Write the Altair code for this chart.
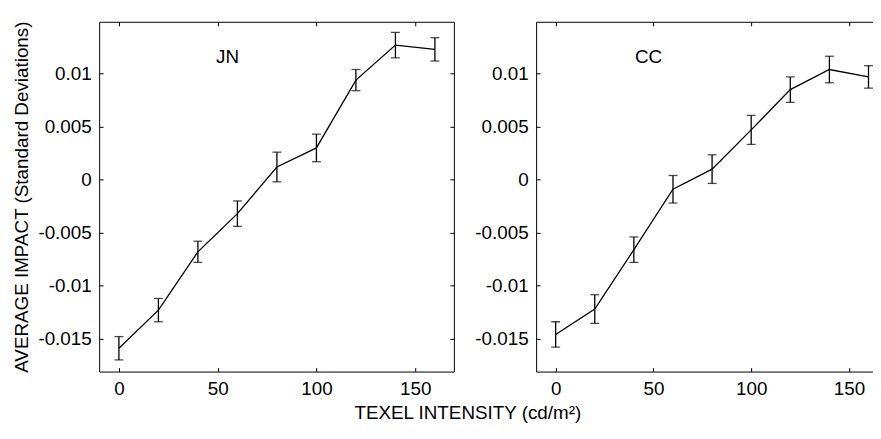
import altair as alt
import pandas as pd

# ---- data ----
intensity = [0, 20, 40, 60, 80, 100, 120, 140, 160]
jn_mean = [-0.0159, -0.0123, -0.0068, -0.0032, 0.0012, 0.0030, 0.0094, 0.0127, 0.0123]
jn_err = [0.0011, 0.0011, 0.0010, 0.0012, 0.0014, 0.0013, 0.0010, 0.0012, 0.0011]
cc_mean = [-0.0146, -0.0122, -0.0066, -0.0009, 0.0010, 0.0047, 0.0085, 0.0104, 0.0097]
cc_err = [0.0012, 0.00135, 0.0012, 0.0013, 0.00135, 0.00137, 0.0012, 0.00125, 0.00106]

panel_names = ["JN", "CC"]
label_pos_x = [55, 47.5]
label_pos_y = [0.0116, 0.0116]

x_ticks = [0, 50, 100, 150]
y_ticks = [-0.015, -0.01, -0.005, 0, 0.005, 0.01]
y_title = "AVERAGE IMPACT (Standard Deviations)"
x_title = "TEXEL INTENSITY (cd/m\u00b2)"

FONT = "Liberation Sans"
INWARD = {"expr": "-4"}


def panel(means, errs, name, lx, ly, xmax, width, show_right, show_ytitle):
    df = pd.DataFrame({
        "x": intensity,
        "y": means,
        "lo": [m - e for m, e in zip(means, errs)],
        "hi": [m + e for m, e in zip(means, errs)],
    })
    lab = pd.DataFrame({"x": [lx], "y": [ly], "t": [name]})
    xs = alt.Scale(domain=[-10, xmax], nice=False, zero=False)
    ys = alt.Scale(domain=[-0.0181, 0.0149], nice=False, zero=False)

    bottom_axis = alt.Axis(orient="bottom", values=x_ticks, tickSize=INWARD,
                           labelPadding=12, title=None)
    left_axis = alt.Axis(orient="left", values=y_ticks, tickSize=INWARD,
                         labelPadding=12, labelExpr="'' + datum.value",
                         title=y_title if show_ytitle else None,
                         titlePadding=6)
    top_axis = alt.Axis(orient="top", values=x_ticks, tickSize=INWARD,
                        labels=False, title=None)
    right_axis = alt.Axis(orient="right", values=y_ticks, tickSize=INWARD,
                          labels=False, title=None)

    base = alt.Chart(df)
    line = base.mark_line(color="black", strokeWidth=1.3).encode(
        x=alt.X("x:Q", scale=xs, axis=bottom_axis),
        y=alt.Y("y:Q", scale=ys, axis=left_axis),
    )
    mirror = base.mark_line(opacity=0).encode(
        x=alt.X("x:Q", scale=xs, axis=top_axis),
        y=alt.Y("y:Q", scale=ys, axis=right_axis if show_right else None),
    )
    rule = base.mark_rule(color="black", strokeWidth=1.3).encode(
        x=alt.X("x:Q", scale=xs, axis=None),
        y=alt.Y("lo:Q", scale=ys, axis=None),
        y2="hi:Q",
    )
    cap_lo = base.mark_tick(color="black", orient="horizontal", size=9, thickness=1.3).encode(
        x=alt.X("x:Q", scale=xs, axis=None),
        y=alt.Y("lo:Q", scale=ys, axis=None),
    )
    cap_hi = base.mark_tick(color="black", orient="horizontal", size=9, thickness=1.3).encode(
        x=alt.X("x:Q", scale=xs, axis=None),
        y=alt.Y("hi:Q", scale=ys, axis=None),
    )
    text = alt.Chart(lab).mark_text(font=FONT, fontSize=19, color="black",
                                    align="center", baseline="middle").encode(
        x=alt.X("x:Q", scale=xs, axis=None),
        y=alt.Y("y:Q", scale=ys, axis=None),
        text="t:N",
    )
    return alt.layer(line, mirror, rule, cap_lo, cap_hi, text).resolve_axis(
        x="independent", y="independent"
    ).properties(width=width, height=353)


left = panel(jn_mean, jn_err, panel_names[0], label_pos_x[0], label_pos_y[0],
             169.6, 358, True, True)
right = panel(cc_mean, cc_err, panel_names[1], label_pos_x[1], label_pos_y[1],
              162.3, 340, False, False)

chart = alt.hconcat(left, right, spacing=20).properties(
    title=alt.TitleParams(x_title, orient="bottom", anchor="middle", dx=25,
                          font=FONT, fontSize=19, fontWeight="normal",
                          color="black", offset=6),
    padding={"left": 5, "top": 10, "right": 0, "bottom": 0},
).configure_view(strokeWidth=0).configure_axis(
    grid=False, domainColor="black", tickColor="black", labelColor="black",
    titleColor="black", labelFont=FONT, titleFont=FONT, labelFontSize=19,
    titleFontSize=19, titleFontWeight="normal", domainWidth=1, tickWidth=1,
)

chart.save("out.html", embed_options={"renderer": "svg", "actions": False})
